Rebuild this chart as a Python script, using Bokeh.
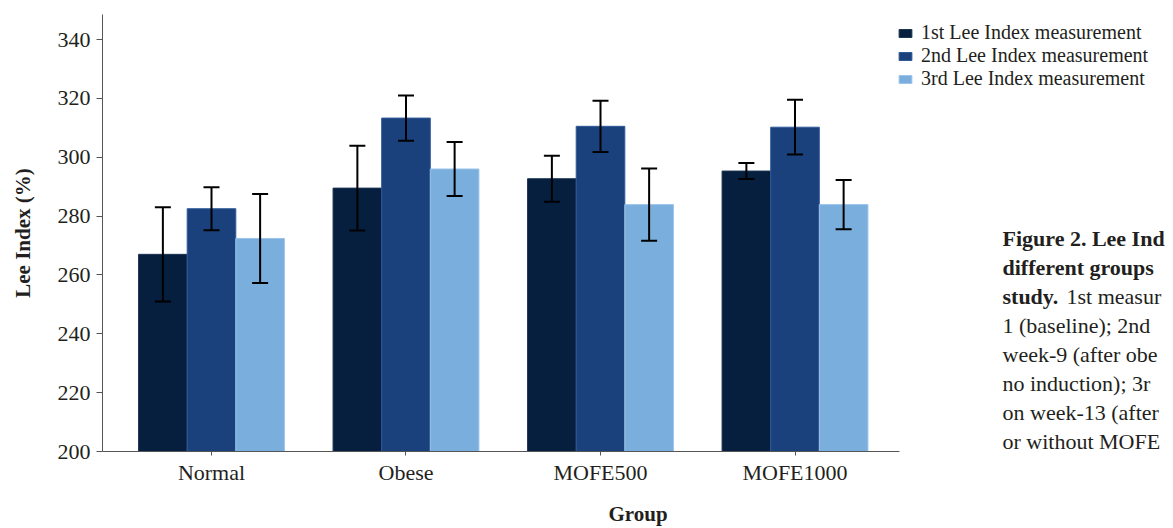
from bokeh.plotting import figure
from bokeh.models import (ColumnDataSource, Whisker, Legend, LegendItem,
                          Label, Range1d, FixedTicker, TeeHead)
from bokeh.transform import dodge
from bokeh.embed import file_html
from bokeh.resources import INLINE

# ---- data ----
groups = ["Normal", "Obese", "MOFE500", "MOFE1000"]
series_labels = ["1st Lee Index measurement", "2nd Lee Index measurement", "3rd Lee Index measurement"]
m1 = [267.0, 289.5, 292.7, 295.3]
e1 = [16.0, 14.4, 7.8, 2.7]
m2 = [282.5, 313.3, 310.5, 310.2]
e2 = [7.3, 7.7, 8.7, 9.3]
m3 = [272.4, 296.0, 283.9, 283.9]
e3 = [15.1, 9.2, 12.3, 8.4]
yticks = [200, 220, 240, 260, 280, 300, 320, 340]
# caption text as visible in the source (it is cut by the page edge there)
caption_lines = [
    ("Figure 2. Lee Ind", "bold"),
    ("different groups", "bold"),
    ("study.", "bold"),
    ("1 (baseline); 2nd", "normal"),
    ("week-9 (after obe", "normal"),
    ("no induction); 3r", "normal"),
    ("on week-13 (after", "normal"),
    ("or without MOFE", "normal"),
]
caption_line3_rest = "1st measur"

colors = ["#061f3e", "#1b417d", "#7aafdd"]
edge_colors = ["#1e3553", "#2f5a98", "#9cc4ea"]
FONT = "Liberation Serif"
TXT = "#231f20"

xi = list(range(len(groups)))
src = ColumnDataSource(dict(
    xi=xi, group=groups,
    m1=m1, m2=m2, m3=m3,
    l1=[m - e for m, e in zip(m1, e1)], u1=[m + e for m, e in zip(m1, e1)],
    l2=[m - e for m, e in zip(m2, e2)], u2=[m + e for m, e in zip(m2, e2)],
    l3=[m - e for m, e in zip(m3, e3)], u3=[m + e for m, e in zip(m3, e3)],
))

p = figure(x_range=Range1d(-0.5604, 4.946), y_range=Range1d(200, 348.5),
           width=1173, height=528, output_backend="svg", toolbar_location=None,
           min_border_left=102, min_border_right=0, min_border_top=14, min_border_bottom=75)
p.outline_line_color = None
p.xgrid.visible = False
p.ygrid.visible = False

offsets = [-0.25, 0.0, 0.25]
renderers = []
for i, off in enumerate(offsets):
    k = str(i + 1)
    r = p.vbar(x=dodge("xi", off), top="m" + k, bottom=200, width=0.25,
               source=src, fill_color=colors[i], line_color=edge_colors[i], line_width=1)
    renderers.append(r)
    w = Whisker(base=dodge("xi", off), upper="u" + k, lower="l" + k,
                source=src, line_color="black", line_width=2,
                upper_head=TeeHead(size=16, line_color="black", line_width=2),
                lower_head=TeeHead(size=16, line_color="black", line_width=2))
    w.level = "overlay"
    p.add_layout(w)

# axes
p.yaxis.ticker = FixedTicker(ticks=yticks)
p.xaxis.ticker = FixedTicker(ticks=xi)
p.xaxis.major_label_overrides = {i: g for i, g in zip(xi, groups)}
p.xaxis.bounds = (-0.5604, 3.537)
for ax in (p.xaxis[0], p.yaxis[0]):
    ax.axis_line_color = "#555555"
    ax.major_tick_line_color = "#555555"
    ax.major_tick_in = 0
    ax.minor_tick_out = 0
    ax.minor_tick_in = 0
    ax.major_label_text_font = FONT
    ax.major_label_text_font_size = "22px"
    ax.major_label_text_color = TXT
    ax.axis_label_text_font = FONT
    ax.axis_label_text_font_size = "21px"
    ax.axis_label_text_font_style = "bold"
    ax.axis_label_text_color = TXT
p.yaxis.major_tick_out = 6
p.yaxis.major_label_standoff = 6
p.yaxis.axis_label = "Lee Index (%)"
p.yaxis.axis_label_standoff = 20
p.xaxis.major_tick_out = 4
p.xaxis.major_label_standoff = 4
p.xaxis.axis_label = "Group"
p.xaxis.axis_label_standoff = 14

legend = Legend(items=[LegendItem(label=series_labels[i], renderers=[renderers[i]]) for i in range(3)],
                location=(795, 361), orientation="vertical",
                background_fill_alpha=0, border_line_alpha=0, padding=0, margin=0, spacing=0,
                glyph_width=16, glyph_height=10, label_standoff=8, label_height=20,
                label_text_font=FONT, label_text_font_size="20px", label_text_color=TXT)
p.add_layout(legend)

# caption block to the right of the chart
y0 = 213
for j, (txt, style) in enumerate(caption_lines):
    p.add_layout(Label(x=900, y=y0 - 29 * j, x_units="screen", y_units="screen", text=txt,
                       text_font=FONT, text_font_size="22px", text_font_style=style,
                       text_baseline="middle", text_color=TXT))
p.add_layout(Label(x=964, y=y0 - 29 * 2, x_units="screen", y_units="screen", text=caption_line3_rest,
                   text_font=FONT, text_font_size="22px", text_font_style="normal",
                   text_baseline="middle", text_color=TXT))

open("out.html", "w").write(file_html(p, INLINE))
